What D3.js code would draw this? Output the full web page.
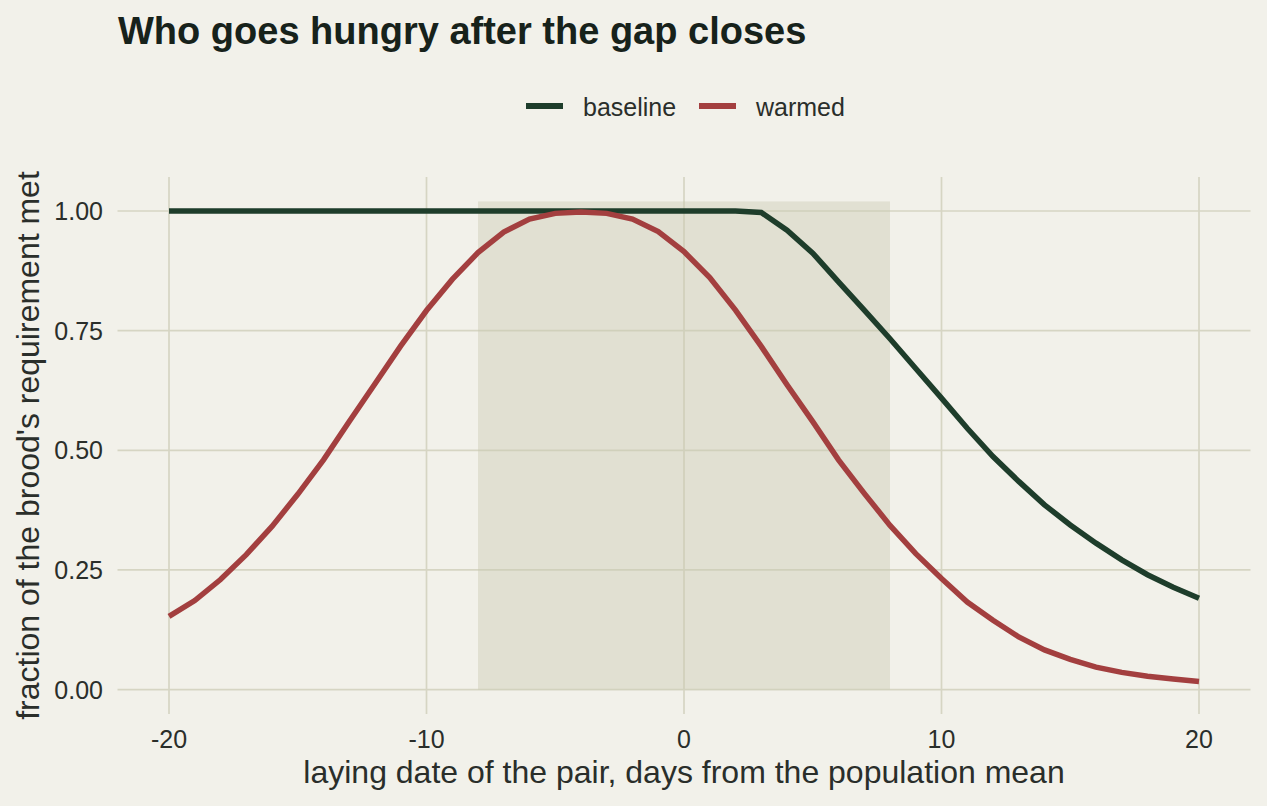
<!DOCTYPE html>
<html>
<head>
<meta charset="utf-8">
<script src="https://cdn.jsdelivr.net/npm/d3@7"></script>
<style>
  body { margin: 0; background: #f2f1ea; }
  svg { display: block; font-family: "Liberation Sans", Arial, sans-serif; }
</style>
</head>
<body>
<svg width="1267" height="806"></svg>
<script>
"use strict";

// 데이터: 산란일(평균 대비 일수)과 두 시나리오의 충족 비율
const days = d3.range(-20, 21);
const baseline = [
  1, 1, 1, 1, 1, 1, 1, 1, 1, 1,
  1, 1, 1, 1, 1, 1, 1, 1, 1, 1,
  1, 1, 1, 0.997, 0.960, 0.912, 0.852, 0.793, 0.733, 0.671,
  0.609, 0.546, 0.487, 0.435, 0.386, 0.344, 0.306, 0.271, 0.240, 0.214,
  0.191
];
const warmed = [
  0.153, 0.186, 0.230, 0.282, 0.341, 0.408, 0.480, 0.560, 0.639, 0.718,
  0.792, 0.857, 0.913, 0.956, 0.983, 0.995, 0.998, 0.995, 0.983, 0.957,
  0.915, 0.861, 0.793, 0.717, 0.637, 0.560, 0.480, 0.410, 0.343, 0.284,
  0.232, 0.183, 0.145, 0.110, 0.083, 0.063, 0.047, 0.036, 0.028, 0.022,
  0.017
];
const xTicks = [-20, -10, 0, 10, 20];
const yTicks = [0, 0.25, 0.5, 0.75, 1];
const shadeX = [-8, 8];   // 음영 구간 (x)
const shadeTop = 1.02;    // 음영 구간 위쪽 끝 (y)
const seriesNames = ["baseline", "warmed"];
const colors = { baseline: "#1e3d2b", warmed: "#a33f3f" };

const svg = d3.select("svg");

// 스케일 (ggplot 처럼 양쪽에 여유를 둔 영역)
const x = d3.scaleLinear().domain([-22, 22]).range([117.5, 1250.5]);
const y = d3.scaleLinear().domain([-0.051, 1.071]).range([714, 177]);
const [xMin, xMax] = x.domain();
const [yMin, yMax] = y.domain();

// 격자선
svg.append("g")
  .selectAll("line")
  .data(yTicks)
  .join("line")
  .attr("x1", x(xMin)).attr("x2", x(xMax))
  .attr("y1", d => y(d)).attr("y2", d => y(d))
  .style("stroke", "#d6d5c3").style("stroke-width", "1.7px");

svg.append("g")
  .selectAll("line")
  .data(xTicks)
  .join("line")
  .attr("x1", d => x(d)).attr("x2", d => x(d))
  .attr("y1", y(yMax)).attr("y2", y(yMin))
  .style("stroke", "#d6d5c3").style("stroke-width", "1.7px");

// 음영 직사각형
svg.append("rect")
  .attr("x", x(shadeX[0]))
  .attr("width", x(shadeX[1]) - x(shadeX[0]))
  .attr("y", y(shadeTop))
  .attr("height", y(0) - y(shadeTop))
  .style("fill", "#c9c9b0")
  .style("opacity", 0.4);

// 선
const line = d3.line().x((d, i) => x(days[i])).y(d => y(d));
svg.append("path").datum(baseline).attr("d", line)
  .style("fill", "none").style("stroke", colors.baseline).style("stroke-width", "5.5px");
svg.append("path").datum(warmed).attr("d", line)
  .style("fill", "none").style("stroke", colors.warmed).style("stroke-width", "5.5px");

// 축 눈금 라벨
svg.append("g")
  .selectAll("text")
  .data(yTicks)
  .join("text")
  .attr("x", 103).attr("y", d => y(d)).attr("dy", "0.36em")
  .attr("text-anchor", "end")
  .style("font-size", "25px").style("fill", "#2a2e2a")
  .text(d => d3.format(".2f")(d));

svg.append("g")
  .selectAll("text")
  .data(xTicks)
  .join("text")
  .attr("x", d => x(d)).attr("y", 748)
  .attr("text-anchor", "middle")
  .style("font-size", "25px").style("fill", "#2a2e2a")
  .text(d => d);

// 축 제목
svg.append("text")
  .attr("x", x(0)).attr("y", 783)
  .attr("text-anchor", "middle")
  .style("font-size", "32px").style("fill", "#2a2e2a")
  .text("laying date of the pair, days from the population mean");

svg.append("text")
  .attr("transform", "translate(39," + ((y(yMax) + y(yMin)) / 2) + ") rotate(-90)")
  .attr("text-anchor", "middle")
  .style("font-size", "32px").style("fill", "#2a2e2a")
  .text("fraction of the brood's requirement met");

// 제목
svg.append("text")
  .attr("x", 118).attr("y", 44)
  .style("font-size", "38px").style("font-weight", "bold").style("fill", "#17221b")
  .text("Who goes hungry after the gap closes");

// 범례
const legend = svg.append("g");
const legX = [526, 699];
seriesNames.forEach((name, i) => {
  legend.append("line")
    .attr("x1", legX[i]).attr("x2", legX[i] + 37)
    .attr("y1", 106).attr("y2", 106)
    .style("stroke", colors[name]).style("stroke-width", "6px");
  legend.append("text")
    .attr("x", legX[i] + 57).attr("y", 116)
    .style("font-size", "25px").style("fill", "#2a2e2a")
    .text(name);
});
</script>
</body>
</html>
